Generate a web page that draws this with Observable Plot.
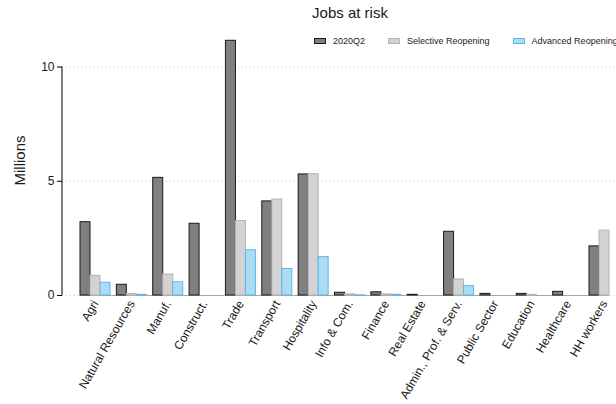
<!DOCTYPE html>
<html><head><meta charset="utf-8">
<script src="https://cdn.jsdelivr.net/npm/d3@7"></script>
<script src="https://cdn.jsdelivr.net/npm/@observablehq/plot@0.6"></script>
<style>
html,body{margin:0;padding:0;overflow:hidden;background:#fff;}
#wrap{position:relative;width:642px;height:404px;}
#legend{position:absolute;top:36px;left:314px;display:flex;align-items:center;font:9px "Liberation Sans",Arial,sans-serif;color:#1a1a1a;white-space:nowrap;}
.item{display:flex;align-items:center;margin-right:23px;}
.key{display:inline-block;width:10px;height:4px;border:1px solid;margin-right:7px;}
svg{font-family:"Liberation Sans",Arial,sans-serif;}
</style></head><body><div id="wrap"><div id="legend"></div></div>
<script>
const categories = ["Agri","Natural Resources","Manuf.","Construct.","Trade","Transport","Hospitality","Info & Com.","Finance","Real Estate","Admin., Prof. & Serv.","Public Sector","Education","Healthcare","HH workers"];
const series = ["2020Q2","Selective Reopening","Advanced Reopening"];
const q2 =        [3.21,0.47,5.15,3.14,11.15,4.12,5.30,0.12,0.14,0.03,2.79,0.07,0.07,0.16,2.15];
const selective = [0.86,0.07,0.92,0,   3.26, 4.20,5.31,0.05,0.05,0,   0.70,0,   0.03,0,   2.84];
const advanced =  [0.56,0.03,0.58,0,   1.98, 1.16,1.68,0.01,0.03,0,   0.41,0,   0,   0,   0];
const yTicks = [0, 5, 10];
const fills = ["#808080","#d3d3d3","#acdcf4"];
const strokes = ["#1a1a1a","#b3b3b3","#5cb8ea"];

const W = 642, H = 404, mL = 62, mR = 5, mT = 25, mB = 109;
const pIn = 0.175, pOut = 0.495;
const bw = d3.scaleBand().domain(categories).range([mL, W - mR]).paddingInner(pIn).paddingOuter(pOut).bandwidth();
const seg = bw / 3;

const valuesBySeries = [q2, selective, advanced];
const rows = [];
valuesBySeries.forEach((vals, s) => vals.forEach((v, i) => rows.push({category: categories[i], series: series[s], s, value: v})));

const barMarks = [0,1,2].map(s => Plot.barY(rows.filter(d => d.s === s && d.value > 0), {
  x: "category", y: "value",
  insetLeft: s * seg, insetRight: (2 - s) * seg,
  fill: fills[s], stroke: strokes[s], strokeWidth: 1
}));

const yAxisLine = (index, scales, values, dimensions) =>
  d3.create("svg:line")
    .attr("x1", dimensions.marginLeft).attr("x2", dimensions.marginLeft)
    .attr("y1", scales.y(yTicks[0])).attr("y2", scales.y(yTicks[yTicks.length-1]))
    .attr("stroke", "#000").attr("stroke-width", 1).node();

const chart = Plot.plot({
  width: W, height: H,
  marginLeft: mL, marginRight: mR, marginTop: mT, marginBottom: mB,
  style: {fontFamily: '"Liberation Sans", Arial, sans-serif', color: "#1a1a1a", background: "#fff"},
  x: {domain: categories, paddingInner: pIn, paddingOuter: pOut, round: false, label: null},
  y: {domain: [0, 11.82], label: null},
  marks: [
    Plot.gridY(yTicks, {stroke: "#c4c4c4", strokeOpacity: 1, strokeDasharray: "1,3"}),
    Plot.ruleY([0], {x1: () => categories[0], x2: () => categories[categories.length-1], stroke: "#a6a6a6", insetRight: seg}),
    ...barMarks,
    Plot.axisY(yTicks, {tickSize: 5, tickPadding: 3, fontSize: 12, label: null, stroke: "#000"}),
    yAxisLine,
    Plot.axisX({tickSize: 0, tickPadding: 6, tickRotate: -60, fontSize: 12, label: null}),
    Plot.text(["Millions"], {frameAnchor: "left", textAnchor: "middle", lineAnchor: "middle", rotate: -90, dx: -42, fontSize: 15}),
    Plot.text(["Jobs at risk"], {frameAnchor: "top", lineAnchor: "middle", dy: -12, fontSize: 15})
  ]
});
document.getElementById("wrap").prepend(chart);

const legend = d3.select("#legend");
series.forEach((name, s) => {
  const it = legend.append("div").attr("class", "item");
  it.append("span").attr("class", "key").style("background", fills[s]).style("border-color", strokes[s]);
  it.append("span").text(name);
});
</script></body></html>
